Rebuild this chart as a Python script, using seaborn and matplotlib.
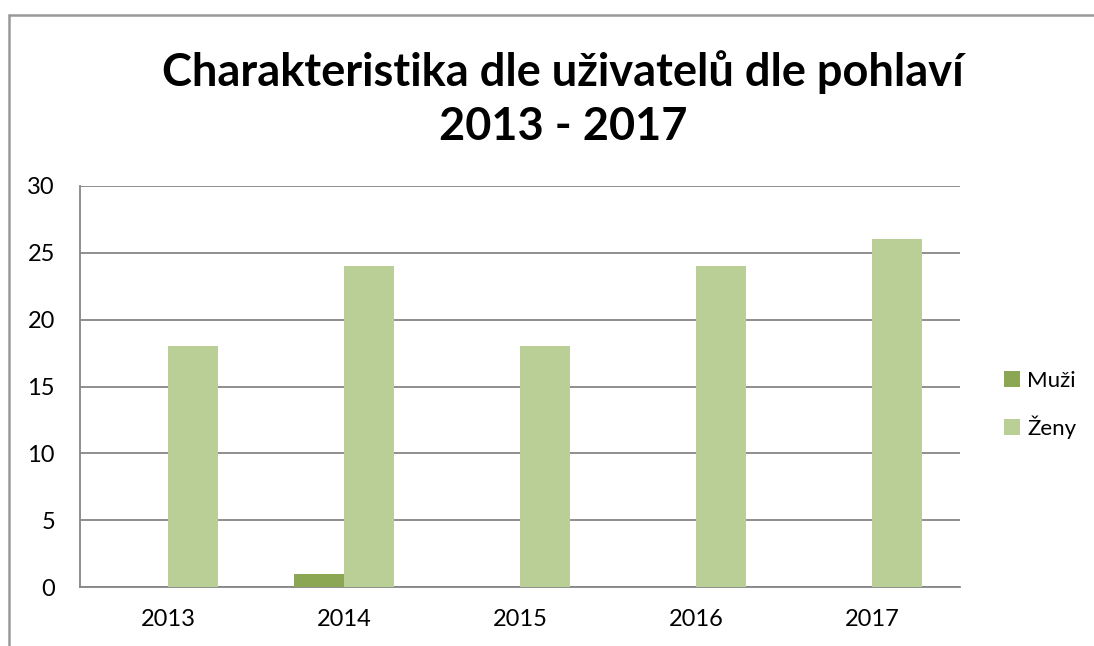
import numpy as np
import pandas as pd
import matplotlib
matplotlib.use('Agg')
import matplotlib.pyplot as plt
import seaborn as sns
from matplotlib.lines import Line2D
from matplotlib.patches import Patch

# data
years = ['2013', '2014', '2015', '2016', '2017']
muzi = [0, 1, 0, 0, 0]
zeny = [18, 24, 18, 24, 26]
series_names = ['Muži', 'Ženy']
colors = ['#8BA753', '#B9CF96']

df = pd.DataFrame({
    'rok': years * 2,
    'pohlavi': [series_names[0]] * len(years) + [series_names[1]] * len(years),
    'pocet': muzi + zeny,
})

sns.set_style('white')
plt.rcParams['font.family'] = ['Lato', 'DejaVu Sans']
plt.rcParams['text.color'] = 'black'

fig = plt.figure(figsize=(10.94, 6.46), dpi=100)
ax = fig.add_axes([80 / 1094, 1 - 587 / 646, 880 / 1094, (587 - 186) / 646])

sns.barplot(data=df, x='rok', y='pocet', hue='pohlavi', palette=colors,
            width=0.568, gap=0, saturation=1, linewidth=0, ax=ax,
            legend=False, zorder=3)

ax.set_ylim(0, 30)
ax.set_yticks(range(0, 31, 5))
ax.set_xlim(-0.5, 4.5)
ax.grid(axis='y', color='#868686', linewidth=1.3, zorder=0)
ax.set_axisbelow(True)
ax.set_xlabel('')
ax.set_ylabel('')
for s in ['top', 'right']:
    ax.spines[s].set_visible(False)
for s in ['left', 'bottom']:
    ax.spines[s].set_color('#868686')
    ax.spines[s].set_linewidth(1.3)
ax.tick_params(axis='both', length=0, labelsize=17, colors='black', pad=16)
ax.tick_params(axis='y', pad=18)

fig.text(563 / 1094, 1 - 72 / 646, 'Charakteristika dle uživatelů dle pohlaví',
         ha='center', va='center', fontsize=32.5, fontweight='bold')
fig.text(563 / 1094, 1 - 127 / 646, '2013 - 2017',
         ha='center', va='center', fontsize=32.5, fontweight='bold')

handles = [Patch(facecolor=c, edgecolor='none') for c in colors]
fig.legend(handles, series_names, loc='center left',
           bbox_to_anchor=(1004 / 1094, 1 - 405 / 646), frameon=False,
           borderpad=0, borderaxespad=0,
           fontsize=16, handlelength=0.7, handleheight=0.7,
           handletextpad=0.35, labelspacing=1.1)

# outer chart border (partly cropped in the original)
fig.add_artist(Line2D([9 / 1094, 9 / 1094], [0, 1 - 15 / 646],
                      color='#999999', linewidth=1.8, transform=fig.transFigure))
fig.add_artist(Line2D([9 / 1094, 1], [1 - 15 / 646, 1 - 15 / 646],
                      color='#999999', linewidth=1.8, transform=fig.transFigure))

fig.savefig('out.png', dpi=100)
